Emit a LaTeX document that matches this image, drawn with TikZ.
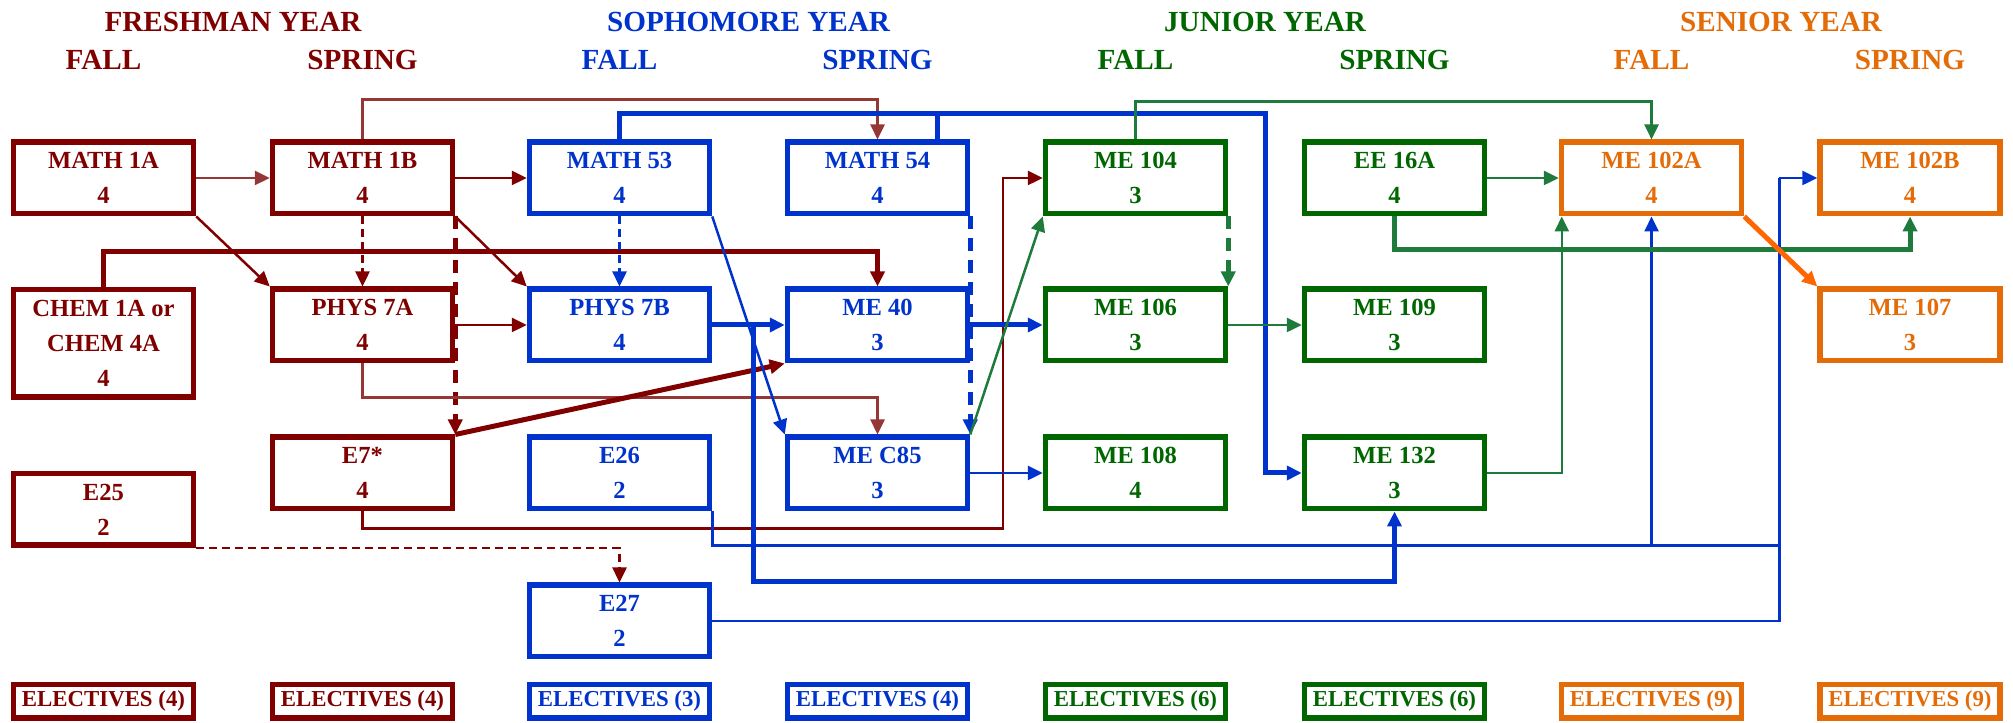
\documentclass[tikz,border=0pt]{standalone}
\usepackage{fontspec}
\setmainfont{Liberation Serif}
\usepackage{tikz}
\usetikzlibrary{arrows.meta,calc,positioning}
\definecolor{fresh}{HTML}{800000}
\definecolor{freshlight}{HTML}{953735}
\definecolor{soph}{HTML}{0033CC}
\definecolor{junior}{HTML}{006600}
\definecolor{juniorlight}{HTML}{1E7B3C}
\definecolor{senior}{HTML}{E36C09}
\definecolor{seniorbright}{HTML}{FF6600}

\begin{document}
\begin{tikzpicture}[
    font=\bfseries,
    course/.style={draw, line width=0.55mm, minimum width=18mm, minimum height=7.15mm,
                   align=center, inner sep=0pt, font=\bfseries\fontsize{7}{10}\selectfont},
    freshman/.style={course, draw=fresh, text=fresh},
    sophomore/.style={course, draw=soph, text=soph},
    junioryr/.style={course, draw=junior, text=junior},
    senioryr/.style={course, draw=senior, text=senior},
    elective/.style={minimum height=3.35mm, font=\bfseries\fontsize{6.5}{8}\selectfont},
    yearhead/.style={font=\bfseries\fontsize{8.3}{10}\selectfont},
    link/.style={-{Triangle[length=1.5mm,width=1.4mm]}, line width=0.25mm},
    heavy/.style={link, line width=0.5mm},
    wire/.style={line width=0.25mm},
    heavywire/.style={line width=0.5mm},
    dashlink/.style={link, dash pattern=on 0.8mm off 0.5mm},
    heavydash/.style={heavy, dash pattern=on 1.3mm off 0.9mm}
]
\useasboundingbox (0,0) rectangle (201.3mm,-72.3mm);

\node[yearhead, text=fresh] (yfresh) at (23.3mm,-2.2mm) {FRESHMAN YEAR};
\node[yearhead, text=soph] (ysoph) at (74.85mm,-2.2mm) {SOPHOMORE YEAR};
\node[yearhead, text=junior] (yjunior) at (126.5mm,-2.2mm) {JUNIOR YEAR};
\node[yearhead, text=senior] (ysenior) at (178.1mm,-2.2mm) {SENIOR YEAR};

\node[yearhead, text=fresh] (s1) at (10.35mm,-6mm) {FALL};
\node[yearhead, text=fresh] (s2) at (36.25mm,-6mm) {SPRING};
\node[yearhead, text=soph] (s3) at (61.95mm,-6mm) {FALL};
\node[yearhead, text=soph] (s4) at (87.75mm,-6mm) {SPRING};
\node[yearhead, text=junior] (s5) at (113.55mm,-6mm) {FALL};
\node[yearhead, text=junior] (s6) at (139.45mm,-6mm) {SPRING};
\node[yearhead, text=senior] (s7) at (165.15mm,-6mm) {FALL};
\node[yearhead, text=senior] (s8) at (191mm,-6mm) {SPRING};

\node[freshman] (math1a) at (10.35mm,-17.8mm) {MATH 1A\\4};
\node[freshman, minimum height=10.75mm] (chem) at (10.35mm,-34.35mm) {CHEM 1A or\\CHEM 4A\\4};
\node[freshman] (e25) at (10.35mm,-50.95mm) {E25\\2};
\node[freshman] (math1b) at (36.25mm,-17.8mm) {MATH 1B\\4};
\node[freshman] (phys7a) at (36.25mm,-32.5mm) {PHYS 7A\\4};
\node[freshman] (e7) at (36.25mm,-47.3mm) {E7*\\4};

\node[sophomore] (math53) at (61.95mm,-17.8mm) {MATH 53\\4};
\node[sophomore] (phys7b) at (61.95mm,-32.5mm) {PHYS 7B\\4};
\node[sophomore] (e26) at (61.95mm,-47.3mm) {E26\\2};
\node[sophomore] (e27) at (61.95mm,-62.1mm) {E27\\2};
\node[sophomore] (math54) at (87.75mm,-17.8mm) {MATH 54\\4};
\node[sophomore] (me40) at (87.75mm,-32.5mm) {ME 40\\3};
\node[sophomore] (mec85) at (87.75mm,-47.3mm) {ME C85\\3};

\node[junioryr] (me104) at (113.55mm,-17.8mm) {ME 104\\3};
\node[junioryr] (me106) at (113.55mm,-32.5mm) {ME 106\\3};
\node[junioryr] (me108) at (113.55mm,-47.3mm) {ME 108\\4};
\node[junioryr] (ee16a) at (139.45mm,-17.8mm) {EE 16A\\4};
\node[junioryr] (me109) at (139.45mm,-32.5mm) {ME 109\\3};
\node[junioryr] (me132) at (139.45mm,-47.3mm) {ME 132\\3};

\node[senioryr] (me102a) at (165.15mm,-17.8mm) {ME 102A\\4};
\node[senioryr] (me102b) at (191mm,-17.8mm) {ME 102B\\4};
\node[senioryr] (me107) at (191mm,-32.5mm) {ME 107\\3};

\node[freshman, elective] (el1) at (10.35mm,-70.15mm) {ELECTIVES (4)};
\node[freshman, elective] (el2) at (36.25mm,-70.15mm) {ELECTIVES (4)};
\node[sophomore, elective] (el3) at (61.95mm,-70.15mm) {ELECTIVES (3)};
\node[sophomore, elective] (el4) at (87.75mm,-70.15mm) {ELECTIVES (4)};
\node[junioryr, elective] (el5) at (113.55mm,-70.15mm) {ELECTIVES (6)};
\node[junioryr, elective] (el6) at (139.45mm,-70.15mm) {ELECTIVES (6)};
\node[senioryr, elective] (el7) at (165.15mm,-70.15mm) {ELECTIVES (9)};
\node[senioryr, elective] (el8) at (191mm,-70.15mm) {ELECTIVES (9)};

\draw[link, freshlight] (math1a) -- (math1b);
\draw[link, fresh] (math1a.south east) -- (phys7a.north west);
\draw[link, fresh] (math1b) -- (math53);
\draw[dashlink, fresh] (math1b) -- (phys7a);
\draw[link, fresh] (math1b.south east) -- (phys7b.north west);
\draw[heavydash, fresh] (math1b.south east) -- (e7.north east);
\draw[link, freshlight] (math1b.north) -- ++(0,4mm) -| (math54.north);
\draw[heavy, fresh] (chem.north) -- ++(0,3.5mm) -| (me40.north);
\draw[link, fresh] (phys7a) -- (phys7b);
\draw[link, freshlight] (phys7a.south) -- ++(0,-3.4mm) -| (mec85.north);
\draw[heavy, fresh] (e7.north east) -- (me40.south west);
\draw[link, fresh] (e7.south) -- ++(0,-1.7mm) -| ([xshift=-4mm]me104.west) -- (me104.west);
\draw[dashlink, fresh] (e25.south east) -| (e27.north);

\draw[dashlink, soph] (math53) -- (phys7b);
\draw[link, soph] (math53.south east) -- (mec85.north west);
\draw[heavy, soph] (math53.north) -- ++(0,2.6mm) -| ([xshift=-3.6mm]me132.west) -- (me132.west);
\draw[heavywire, soph] ([xshift=6mm]math54.north) -- ++(0,2.6mm);
\draw[heavydash, soph] (math54.south east) -- (mec85.north east);
\draw[heavy, soph] (phys7b) -- (me40);
\draw[heavy, soph] ([xshift=4.1mm]phys7b.east) -- ++(0,-25.7mm) -| (me132.south);
\draw[heavy, soph] (me40) -- (me106);
\draw[link, soph] (mec85) -- (me108);
\coordinate (bus) at ([xshift=-3.8mm]me102b.west);
\coordinate (e26turn) at ([yshift=-3.4mm]e26.south east);
\draw[wire, soph] (e26.south east) -- (e26turn) -| (bus);
\draw[wire, soph] (e27) -| (bus);
\draw[link, soph] (bus) -- (me102b.west);
\draw[link, soph] (e26turn -| me102a.south) -- (me102a.south);

\draw[link, juniorlight] (mec85.north east) -- (me104.south west);
\draw[link, juniorlight] (me104.north) -- ++(0,3.8mm) -| (me102a.north);
\draw[heavydash, juniorlight] (me104.south east) -- (me106.north east);
\draw[link, juniorlight] (ee16a) -- (me102a);
\draw[heavy, juniorlight] (ee16a.south) -- ++(0,-3.3mm) -| (me102b.south);
\draw[link, juniorlight] (me106) -- (me109);
\draw[link, juniorlight] (me132) -| ([xshift=0.3mm]me102a.south west);

\draw[heavy, seniorbright] (me102a.south east) -- (me107.north west);
\end{tikzpicture}
\end{document}
